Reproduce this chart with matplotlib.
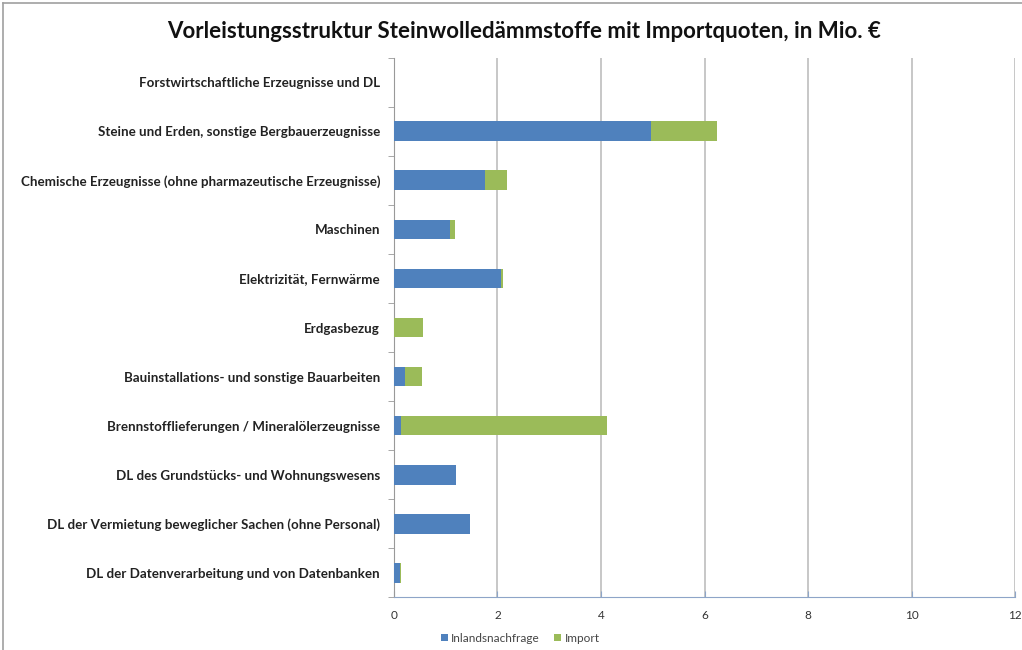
import matplotlib
matplotlib.use("Agg")
import matplotlib.pyplot as plt
from matplotlib.lines import Line2D
import numpy as np

categories = [
    "Forstwirtschaftliche Erzeugnisse und DL",
    "Steine und Erden, sonstige Bergbauerzeugnisse",
    "Chemische Erzeugnisse (ohne pharmazeutische Erzeugnisse)",
    "Maschinen",
    "Elektrizität, Fernwärme",
    "Erdgasbezug",
    "Bauinstallations- und sonstige Bauarbeiten",
    "Brennstofflieferungen / Mineralölerzeugnisse",
    "DL des Grundstücks- und Wohnungswesens",
    "DL der Vermietung beweglicher Sachen (ohne Personal)",
    "DL der Datenverarbeitung und von Datenbanken",
]
inland = [0.0, 4.97, 1.76, 1.08, 2.06, 0.0, 0.22, 0.14, 1.20, 1.46, 0.12]
imports = [0.0, 1.27, 0.42, 0.10, 0.04, 0.56, 0.32, 3.98, 0.0, 0.0, 0.02]
xticks = [0, 2, 4, 6, 8, 10, 12]
title = "Vorleistungsstruktur Steinwolledämmstoffe mit Importquoten, in Mio. €"

plt.rcParams['font.family'] = ['Lato', 'DejaVu Sans']

fig = plt.figure(figsize=(10.22, 6.5), dpi=100)
ax = fig.add_axes([0.3855, 0.0808, 0.6077, 0.8307])

y = np.arange(len(categories))
blue = "#4F81BD"
green = "#9BBB59"
ax.barh(y, inland, height=0.4, color=blue, label="Inlandsnachfrage", zorder=3)
ax.barh(y, imports, left=inland, height=0.4, color=green, label="Import", zorder=3)

ax.set_ylim(len(categories) - 0.5, -0.5)
ax.set_xlim(0, 12)
ax.set_xticks(xticks)
ax.set_xticklabels([str(t) for t in xticks], fontsize=8.5, color="#333333")
ax.set_yticks(y)
ax.set_yticklabels(categories, fontsize=9.6, fontweight="bold", color="#222222")
ax.tick_params(axis="y", length=0, pad=10)
ax.tick_params(axis="x", length=4, direction="in", color="#8EA5C8", pad=9)
ax.set_yticks(np.arange(-0.5, len(categories), 1.0), minor=True)
ax.tick_params(axis="y", which="minor", length=4, color="#999999")

ax.grid(axis="x", color="#BDBDBD", linewidth=1.2, zorder=0)
for s in ["top", "right"]:
    ax.spines[s].set_visible(False)
ax.spines["left"].set_color("#999999")
ax.spines["bottom"].set_color("#8EA5C8")

fig.text(0.513, 0.952, title, ha="center", va="center", fontsize=16, fontweight="bold", color="#111111")

leg = fig.legend(loc="center", bbox_to_anchor=(0.509, 0.018), ncol=2, frameon=False,
                 fontsize=8.5, handlelength=0.6, handleheight=0.6, columnspacing=1.2, handletextpad=0.3)
for t in leg.get_texts():
    t.set_color("#444444")

fig.add_artist(Line2D([0.003, 0.003], [0.0, 0.995], transform=fig.transFigure, color="#A0A0A0", linewidth=1.2))
fig.add_artist(Line2D([0.003, 1.0], [0.995, 0.995], transform=fig.transFigure, color="#A0A0A0", linewidth=1.2))

fig.savefig("out.png", dpi=100)
